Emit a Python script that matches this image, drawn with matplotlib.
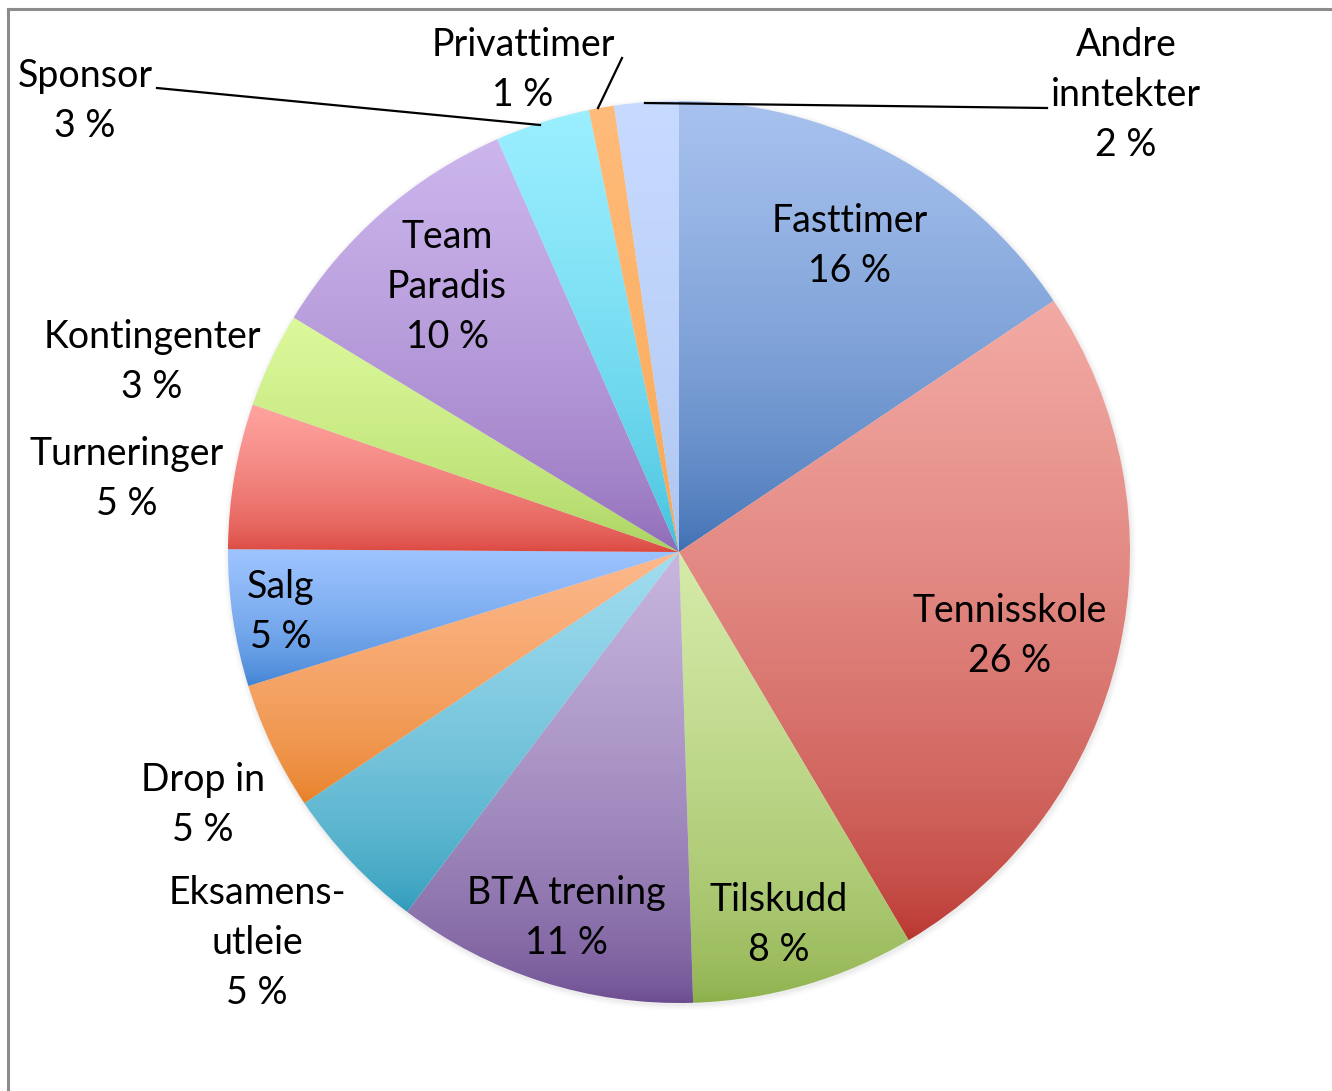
import numpy as np
import matplotlib.pyplot as plt
from matplotlib.colors import to_rgb
from matplotlib.patches import Circle

# data, clockwise from 12 o'clock
categories = ['Fasttimer', 'Tennisskole', 'Tilskudd', 'BTA trening', 'Eksamens-\nutleie',
              'Drop in', 'Salg', 'Turneringer', 'Kontingenter', 'Team\nParadis',
              'Sponsor', 'Privattimer', 'Andre\ninntekter']
shares = [15.6, 25.9, 8.0, 10.8, 5.3, 4.6, 4.9, 5.2, 3.4, 9.7, 3.4, 0.9, 2.3]

# gradient colours (top, bottom) per slice
top_colors = ['#a8c2ef', '#f3aaa4', '#d5eba9', '#c7b6de', '#a2ddf0', '#fdb88c', '#9ec4ff',
              '#ffa4a0', '#dcf99b', '#ccb6ed', '#9befff', '#ffbb7a', '#c7daff']
bottom_colors = ['#3a6cb0', '#b8322c', '#8bae48', '#6a4b8f', '#2a99b8', '#e67e22', '#3a7ed0',
                 '#d9443c', '#a5cf5b', '#8c67b5', '#3bbdda', '#f7a24a', '#a9c2ee']

# label layout, pixel coords of the label centre (y from top)
label_xy = [(850, 246), (1010, 636), (779, 925), (566, 918), (257, 943),
            (203, 805), (281, 612), (127, 479), (152, 362), (447, 287),
            (85, 101), (523, 70), (1126, 95)]
# leader lines for the small outside slices: (label end, pie edge)
leaders = {'Sponsor': [(157, 88), (540, 125)],
           'Privattimer': [(622, 58), (598, 108)],
           'Andre\ninntekter': [(1047, 108), (645, 103)]}

W, H = 1332, 1091
cx, cy, R = 679, 552, 451

plt.rcParams['font.family'] = ['Lato', 'DejaVu Sans']

fig = plt.figure(figsize=(W / 100, H / 100), dpi=100)
ax = fig.add_axes([0, 0, 1, 1])

# soft shadow round the pie
for k, a in enumerate([0.05, 0.04, 0.03, 0.02]):
    ax.add_patch(Circle((cx + 1, H - cy - 2), R + 1 + k * 1.5, color='#808080',
                        alpha=a, lw=0, zorder=0))

wedges, _ = ax.pie(shares, startangle=90, counterclock=False, radius=R,
                   center=(cx, H - cy), frame=True,
                   wedgeprops=dict(linewidth=0))
ax.set_xlim(0, W)
ax.set_ylim(0, H)
ax.set_aspect('equal')
ax.axis('off')

for w, c_top, c_bot in zip(wedges, top_colors, bottom_colors):
    w.set_facecolor('none')
    ext = w.get_path().get_extents()
    t = np.linspace(0, 1, 256)[:, None] ** 0.6
    grad = (1 - t) * np.array(to_rgb(c_bot)) + t * np.array(to_rgb(c_top))
    img = ax.imshow(grad[:, None, :], origin='lower', aspect='auto',
                    extent=(ext.x0, ext.x1, ext.y0, ext.y1), zorder=1,
                    interpolation='bilinear')
    img.set_clip_path(w)

for name, val, (lx, ly) in zip(categories, shares, label_xy):
    ax.text(lx, H - ly, f'{name}\n{round(val)} %', ha='center', va='center',
            fontsize=27, linespacing=1.5, color='black', zorder=5)

for name, pts in leaders.items():
    xs = [p[0] for p in pts]
    ys = [H - p[1] for p in pts]
    ax.plot(xs, ys, color='black', lw=1.6, zorder=4)

# chart area frame (left and top edges visible)
ax.plot([8, 8], [0, H - 9], color='#8c8c8c', lw=2.2, zorder=6)
ax.plot([8, W], [H - 9, H - 9], color='#8c8c8c', lw=2.2, zorder=6)

fig.savefig('out.png', dpi=100)
